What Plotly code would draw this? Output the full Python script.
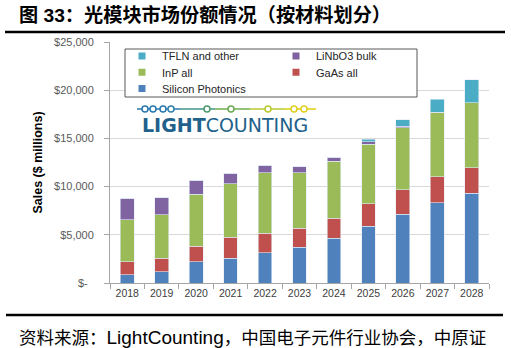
import plotly.graph_objects as go

# ---------------- data ----------------
years = ["2018", "2019", "2020", "2021", "2022", "2023", "2024", "2025", "2026", "2027", "2028"]
silicon_photonics = [860, 1170, 2180, 2590, 3140, 3690, 4620, 5900, 7120, 8340, 9300]
gaas_all = [1320, 1380, 1620, 2180, 2000, 2010, 2120, 2330, 2540, 2670, 2680]
inp_all = [4360, 4530, 5430, 5530, 6300, 5740, 5870, 6150, 6460, 6630, 6700]
linbo3_bulk = [2240, 1770, 1450, 1110, 800, 620, 450, 280, 130, 70, 40]
tfln_other = [0, 0, 0, 0, 0, 0, 0, 240, 660, 1360, 2380]

y_tick_vals = [0, 5000, 10000, 15000, 20000, 25000]
y_tick_text = ["$-\u00a0\u00a0", "$5,000", "$10,000", "$15,000", "$20,000", "$25,000"]

series_names = ["Silicon Photonics", "GaAs all", "InP all", "LiNbO3 bulk", "TFLN and other"]
series_values = [silicon_photonics, gaas_all, inp_all, linbo3_bulk, tfln_other]
series_colors = ["#4f81bd", "#c0504d", "#9bbb59", "#8064a2", "#4bacc6"]
# legend rows as in the original box
legend_rows = [["TFLN and other", "LiNbO3 bulk"], ["InP all", "GaAs all"], ["Silicon Photonics"]]

title_text = "图 33：光模块市场份额情况（按材料划分）"
source_cjk_1 = "资料来源："
source_latin = "LightCounting"
source_cjk_2 = "，中国电子元件行业协会，中原证"

# ---------------- layout geometry ----------------
W, H = 511, 348
L, R, T, B = 110, 22, 42, 65
PW, PH = W - L - R, H - T - B


def px(x):
    return (x - L) / PW


def py(y):
    return (H - B - y) / PH


LATIN_CJK = "Liberation Sans, Arial, Noto Sans CJK SC"

fig = go.Figure()

for name, vals, col in zip(series_names, series_values, series_colors):
    fig.add_trace(go.Bar(
        x=years, y=vals, name=name, marker_color=col,
        marker_line=dict(color="rgba(225,235,245,1)", width=0.6),
        showlegend=False, legendgroup=name,
    ))

# legend entries (small square markers like the original)
color_of = dict(zip(series_names, series_colors))
legend_ids = ["legend", "legend2", "legend3"]
for lid, row in zip(legend_ids, legend_rows):
    for name in row:
        fig.add_trace(go.Scatter(
            x=[None], y=[None], mode="markers", name=name, legendgroup=name, legend=lid,
            marker=dict(symbol="square", size=7, color=color_of[name]),
        ))

shapes = []
# title rule and footer rule
shapes.append(dict(type="line", xref="paper", yref="paper", x0=px(5), x1=px(505), y0=py(32), y1=py(32),
                   line=dict(color="black", width=2.5)))
shapes.append(dict(type="line", xref="paper", yref="paper", x0=px(6), x1=px(503), y0=py(315), y1=py(315),
                   line=dict(color="black", width=2.5)))
# legend box
shapes.append(dict(type="rect", xref="paper", yref="paper", x0=px(125), x1=px(417), y0=py(97), y1=py(49),
                   fillcolor="white", line=dict(color="#595959", width=1), layer="above"))

# logo line with circles
logo_segments = [(137, 180, "#2878b0"), (180, 215, "#3f9487"), (215, 250, "#6fae4c"),
                 (250, 285, "#b9c92e"), (285, 316, "#e2d21c")]
for x0, x1, c in logo_segments:
    shapes.append(dict(type="line", xref="paper", yref="paper", x0=px(x0), x1=px(x1), y0=py(109), y1=py(109),
                       line=dict(color=c, width=1.6), layer="above"))
logo_circles = [(145, "#2878b0"), (153, "#2878b0"), (163, "#2878b0"), (171, "#2f80a8"),
                (207, "#4a9a70"), (231, "#6aaa50"), (268, "#b8c830"), (294, "#e0d020"), (304, "#e0d020")]
for cx, c in logo_circles:
    shapes.append(dict(type="circle", xref="paper", yref="paper", x0=px(cx - 3), x1=px(cx + 3),
                       y0=py(109 + 3), y1=py(109 - 3), fillcolor="white", line=dict(color=c, width=1.5),
                       layer="above"))

annotations = [
    dict(text="<b>LIGHT</b>COUNTING", xref="paper", yref="paper", x=px(225), y=py(125),
         xanchor="center", yanchor="middle", showarrow=False,
         font=dict(family="DejaVu Sans", size=19, color="#21618c")),
    dict(text=source_cjk_1 + "<span style='font-size:19px'>" + source_latin + "</span>" + source_cjk_2,
         xref="paper", yref="paper", x=px(17), y=py(337),
         xanchor="left", yanchor="middle", showarrow=False,
         font=dict(family=LATIN_CJK, size=17.5, color="black")),
]

legend_common = dict(orientation="h", xanchor="left", yanchor="middle",
                     bgcolor="rgba(0,0,0,0)", borderwidth=0, entrywidth=109, itemwidth=30,
                     tracegroupgap=0, traceorder="normal",
                     font=dict(family="Liberation Sans, Arial", size=11, color="#262626"))
row_y = [56, 72.3, 88.5]

fig.update_layout(
    width=W, height=H,
    margin=dict(l=L, r=R, t=T, b=B, autoexpand=False),
    paper_bgcolor="white", plot_bgcolor="white",
    barmode="stack", bargap=0.6,
    title=dict(text="<b>" + title_text + "</b>", x=19 / W, xanchor="left", xref="container",
               y=1 - 15 / H, yanchor="middle",
               font=dict(family=LATIN_CJK, size=19.2, color="black")),
    shapes=shapes, annotations=annotations,
    showlegend=True,
    legend=dict(x=px(122), y=py(row_y[0]), **legend_common),
    legend2=dict(x=px(122), y=py(row_y[1]), **legend_common),
    legend3=dict(x=px(122), y=py(row_y[2]), **legend_common),
    xaxis=dict(type="category", showline=True, linecolor="#a6a6a6", linewidth=1,
               ticks="outside", tickson="boundaries", ticklen=5, tickcolor="#a6a6a6",
               showgrid=False, tickfont=dict(family="Liberation Sans, Arial", size=10.5, color="#404040")),
    yaxis=dict(range=[0, 25000], tickvals=y_tick_vals, ticktext=y_tick_text,
               showline=True, linecolor="#a6a6a6", linewidth=1,
               ticks="outside", ticklen=5, tickcolor="#a6a6a6", ticklabelstandoff=8,
               showgrid=True, gridcolor="#d9d9d9", gridwidth=1, zeroline=False,
               tickfont=dict(family="Liberation Sans, Arial", size=11, color="#595959"),
               title=dict(text="<b>Sales ($ millions)</b>", standoff=8,
                          font=dict(family="Liberation Sans, Arial", size=12.5, color="black"))),
)

fig.write_html("out.html")
